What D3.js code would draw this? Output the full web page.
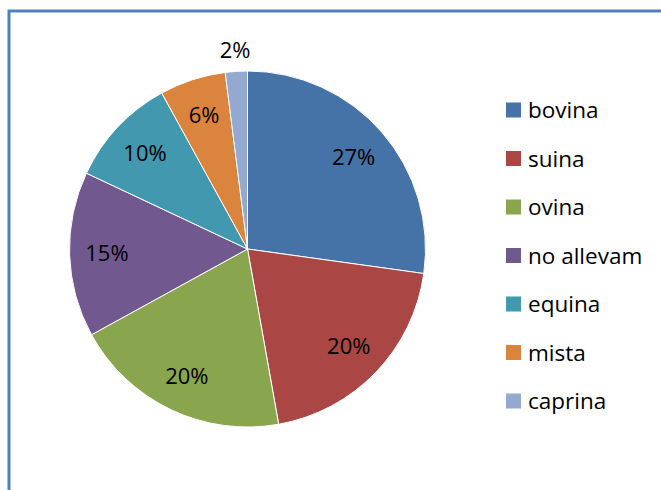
<!DOCTYPE html>
<html>

<head>
  <meta charset="utf-8" />
  <title>Pie</title>
  <style>
    body {
      margin: 0;
      background: #fff;
    }

    svg text {
      font-family: "Open Sans", "Liberation Sans", sans-serif;
      fill: #000;
    }

    .slice {
      stroke: #fff;
      stroke-width: 1px;
    }
  </style>
  <script src="https://cdnjs.cloudflare.com/ajax/libs/d3/7.8.5/d3.min.js"></script>
</head>

<body>
  <div id="chartArea"></div>
  <script>
    var categories = ['bovina', 'suina', 'ovina', 'no allevam', 'equina', 'mista', 'caprina'];
    var values = [27.2, 20, 19.8, 15, 10, 6, 2];
    var colors = ['#4572A7', '#AA4643', '#89A54E', '#71588F', '#4198AF', '#DB843D', '#93A9CF'];

    var W = 661, H = 490;
    var cx = 247.5, cy = 249, r = 178;

    var svg = d3.select('#chartArea').append('svg')
      .attr('width', W)
      .attr('height', H);

    // frame (top and left edges visible)
    svg.append('path')
      .attr('d', 'M9,' + H + 'V11H' + W)
      .attr('fill', 'none')
      .attr('stroke', '#4F81BD')
      .attr('stroke-width', 3);

    var data = categories.map((c, i) => ({ name: c, value: values[i], color: colors[i] }));

    var pie = d3.pie().sort(null).value(d => d.value);
    var arc = d3.arc().innerRadius(0).outerRadius(r);
    var labelArc = d3.arc().innerRadius(r * 0.79).outerRadius(r * 0.79);
    var outArc = d3.arc().innerRadius(r + 21).outerRadius(r + 21);

    var g = svg.append('g')
      .attr('transform', 'translate(' + cx + ',' + cy + ')');

    var arcs = pie(data);

    g.selectAll('path.slice')
      .data(arcs)
      .enter()
      .append('path')
      .attr('class', 'slice')
      .attr('fill', d => d.data.color)
      .attr('d', arc);

    g.selectAll('text.lbl')
      .data(arcs)
      .enter()
      .append('text')
      .attr('class', 'lbl')
      .attr('transform', d => 'translate(' + (d.data.value < 5 ? outArc : labelArc).centroid(d) + ')')
      .attr('text-anchor', 'middle')
      .attr('dy', '0.36em')
      .style('font-size', '22px')
      .text(d => Math.round(d.data.value) + '%');

    // legend
    var legend = svg.append('g')
      .attr('transform', 'translate(506,110)');

    var row = legend.selectAll('g')
      .data(data)
      .enter()
      .append('g')
      .attr('transform', (d, i) => 'translate(0,' + (i * 48.5) + ')');

    row.append('rect')
      .attr('x', 0)
      .attr('y', -7.5)
      .attr('width', 15)
      .attr('height', 15)
      .attr('fill', d => d.color);

    row.append('text')
      .attr('x', 22)
      .attr('dy', '0.36em')
      .style('font-size', '22.5px')
      .text(d => d.name);
  </script>
</body>

</html>
